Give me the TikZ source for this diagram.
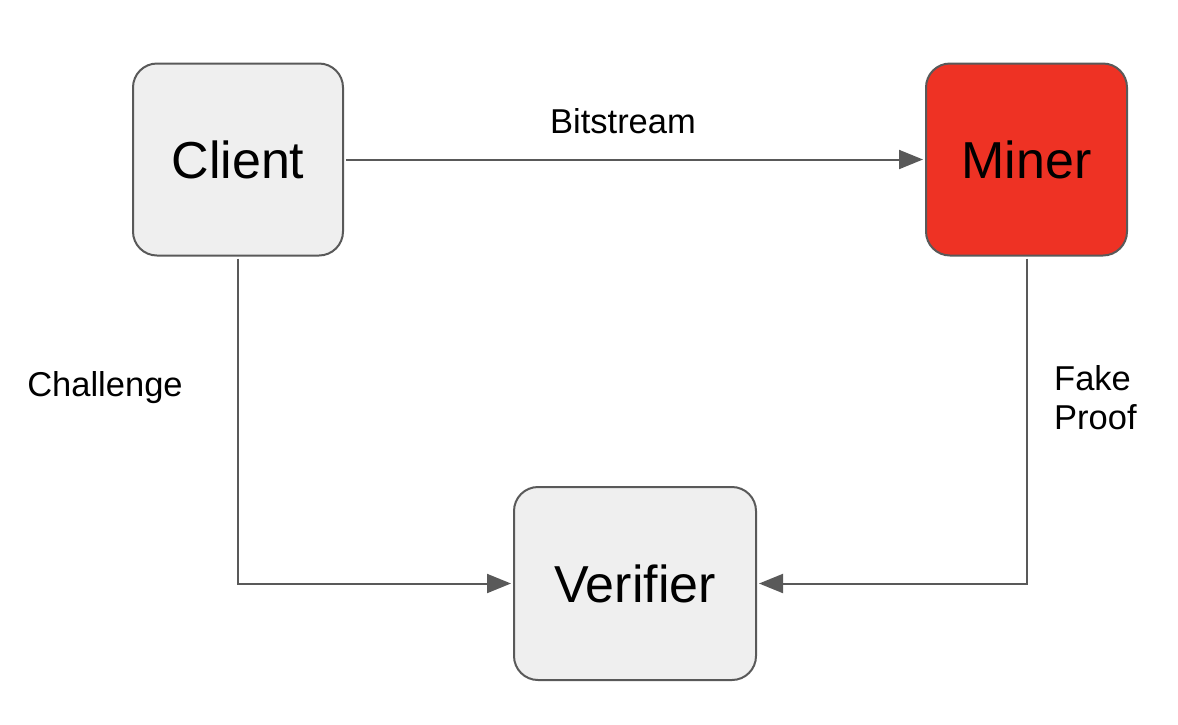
\documentclass[tikz,border=0pt]{standalone}
\usepackage{fontspec}
\setmainfont{Liberation Sans}
\usetikzlibrary{arrows.meta}
\definecolor{edge}{HTML}{595959}
\definecolor{boxgray}{HTML}{EFEFEF}
\definecolor{minerred}{HTML}{EE3224}
\begin{document}
\begin{tikzpicture}[x=1pt,y=-1pt,
  box/.style={draw=edge,line width=2pt,rounded corners=24pt,fill=boxgray,
    inner sep=0pt,outer sep=3pt,font=\fontsize{52}{62}\selectfont},
  conn/.style={draw=edge,line width=2pt,-{Triangle[length=24pt,width=19pt]}},
  lbl/.style={font=\fontsize{34.5}{41}\selectfont,inner sep=0pt}]
\useasboundingbox (0,0) rectangle (1178,724);
\node[box,minimum width=210pt,minimum height=192pt] (client) at (238,159.5) {Client};
\node[box,fill=minerred,minimum width=201pt,minimum height=192pt] (miner) at (1026.5,159.5) {Miner};
\node[box,minimum width=242pt,minimum height=193pt] (verifier) at (635,583.5) {Verifier};
\draw[conn] (client.east) -- (miner.west);
\draw[conn] (client.south) |- (verifier.west);
\draw[conn] (miner.south) |- (verifier.east);
\node[lbl] (bits) at (623,121) {Bitstream};
\node[lbl] (chal) at (105,388) {Challenge};
\node[lbl,align=left,anchor=west] (fake) at (1054,398) {Fake\\[-2pt]Proof};
\end{tikzpicture}
\end{document}
